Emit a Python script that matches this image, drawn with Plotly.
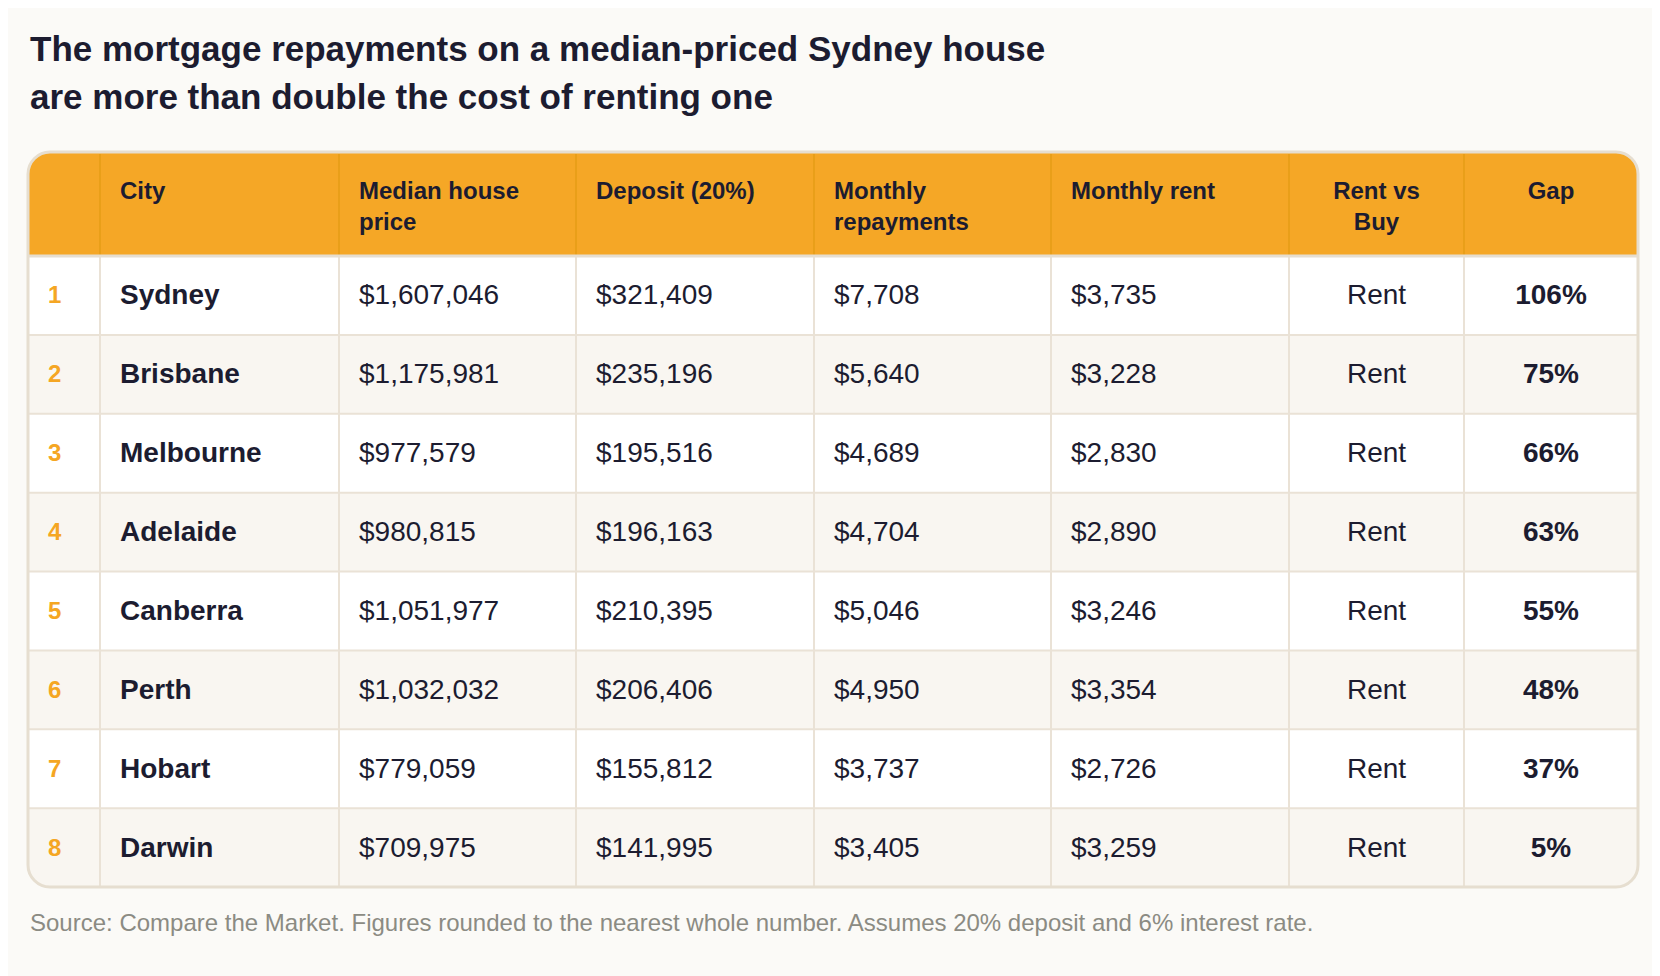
import plotly.graph_objects as go

# Data: cost of buying vs renting a median-priced house, by capital city
ranks = [1, 2, 3, 4, 5, 6, 7, 8]
cities = ["Sydney", "Brisbane", "Melbourne", "Adelaide", "Canberra", "Perth", "Hobart", "Darwin"]
median_price = [1607046, 1175981, 977579, 980815, 1051977, 1032032, 779059, 709975]
deposit = [321409, 235196, 195516, 196163, 210395, 206406, 155812, 141995]
monthly_repayments = [7708, 5640, 4689, 4704, 5046, 4950, 3737, 3405]
monthly_rent = [3735, 3228, 2830, 2890, 3246, 3354, 2726, 3259]
rent_vs_buy = ["Rent", "Rent", "Rent", "Rent", "Rent", "Rent", "Rent", "Rent"]
gap_pct = [106, 75, 66, 63, 55, 48, 37, 5]
headers = ["", "City", "Median house<br>price", "Deposit (20%)", "Monthly<br>repayments",
           "Monthly rent", "Rent vs<br>Buy", "Gap"]

TITLE_LINES = ["The mortgage repayments on a median-priced Sydney house",
               "are more than double the cost of renting one"]
SOURCE = "Source: Compare the Market. Figures rounded to the nearest whole number. Assumes 20% deposit and 6% interest rate."

# Theme
PAGE_BG = "#FBFAF7"
HEADER_FILL = "#F5A726"
HEADER_RULE = "#E59D16"
ROW_ODD = "#FFFFFF"
ROW_EVEN = "#F9F6F1"
GRID = "#EAE2D6"
BORDER = "#E6DED0"
INK = "#1C1C30"
RANK_INK = "#F5A623"
SOURCE_INK = "#8B8B83"
FONT = "Helvetica Neue, Helvetica, Arial, Liberation Sans, sans-serif"

# Layout geometry, in page pixels. The page body keeps its default 8px margin,
# so the figure is 8px smaller and the axes start at 8 to stay 1:1 with the page.
W, H = 1660, 976
BODY_MARGIN = 8
EDGES = [28, 100, 339, 576, 814, 1051, 1289, 1464, 1638]
TABLE_TOP, HEADER_BOTTOM, ROW_H = 152, 256, 78.875
TABLE_BOTTOM = HEADER_BOTTOM + ROW_H * len(ranks)
RADIUS = 22
PAD = 20
CENTERED = [6, 7]


def rounded_path(x0, y0, x1, y1, r, top=True, bottom=True):
    k = 0.5523 * r
    p = []
    if top:
        p.append(f"M{x0},{y0 + r} C{x0},{y0 + r - k} {x0 + r - k},{y0} {x0 + r},{y0}")
        p.append(f"L{x1 - r},{y0} C{x1 - r + k},{y0} {x1},{y0 + r - k} {x1},{y0 + r}")
    else:
        p.append(f"M{x0},{y0} L{x1},{y0}")
    if bottom:
        p.append(f"L{x1},{y1 - r} C{x1},{y1 - r + k} {x1 - r + k},{y1} {x1 - r},{y1}")
        p.append(f"L{x0 + r},{y1} C{x0 + r - k},{y1} {x0},{y1 - r + k} {x0},{y1 - r}")
    else:
        p.append(f"L{x1},{y1} L{x0},{y1}")
    p.append("Z")
    return " ".join(p)


def col_anchor(i):
    if i in CENTERED:
        return (EDGES[i] + EDGES[i + 1]) / 2
    return EDGES[i] + PAD


row_y = [HEADER_BOTTOM + (r - 0.5) * ROW_H + 2 for r in ranks]

shapes = []
# table body and header
shapes.append(dict(type="path", path=rounded_path(EDGES[0], TABLE_TOP, EDGES[-1], TABLE_BOTTOM, RADIUS),
                   fillcolor=ROW_ODD, line_width=0, layer="below"))
shapes.append(dict(type="path", path=rounded_path(EDGES[0], TABLE_TOP, EDGES[-1], HEADER_BOTTOM, RADIUS, bottom=False),
                   fillcolor=HEADER_FILL, line_width=0, layer="below"))
# banded rows
for r in ranks:
    if r % 2 == 0:
        y0 = HEADER_BOTTOM + (r - 1) * ROW_H
        last = r == len(ranks)
        shapes.append(dict(type="path", path=rounded_path(EDGES[0], y0, EDGES[-1], y0 + ROW_H, RADIUS, top=False, bottom=last),
                           fillcolor=ROW_EVEN, line_width=0, layer="below"))
# row rules
for r in ranks[:-1]:
    y = HEADER_BOTTOM + r * ROW_H
    shapes.append(dict(type="line", x0=EDGES[0], x1=EDGES[-1], y0=y, y1=y, line=dict(color=GRID, width=2), layer="below"))
# column rules
for x in EDGES[1:-1]:
    shapes.append(dict(type="line", x0=x, x1=x, y0=TABLE_TOP + 2, y1=HEADER_BOTTOM, line=dict(color=HEADER_RULE, width=1.5), layer="below"))
    shapes.append(dict(type="line", x0=x, x1=x, y0=HEADER_BOTTOM, y1=TABLE_BOTTOM - 1, line=dict(color=GRID, width=2), layer="below"))
# header separator and outer border
shapes.append(dict(type="line", x0=EDGES[0], x1=EDGES[-1], y0=HEADER_BOTTOM, y1=HEADER_BOTTOM,
                   line=dict(color=BORDER, width=3), layer="below"))
shapes.append(dict(type="path", path=rounded_path(EDGES[0], TABLE_TOP, EDGES[-1], TABLE_BOTTOM, RADIUS),
                   fillcolor="rgba(0,0,0,0)", line=dict(color=BORDER, width=3), layer="below"))

fig = go.Figure()

# header labels
HEAD_LINE = 193
head_y = [HEAD_LINE + h.count("<br>") * 31.2 / 2 for h in headers]
fig.add_trace(go.Scatter(
    x=[col_anchor(i) for i in range(len(headers))], y=head_y, text=headers, mode="text",
    textposition=["middle center" if i in CENTERED else "middle right" for i in range(len(headers))],
    textfont=dict(family=FONT, size=24, color=INK, weight="bold"),
    hoverinfo="skip", cliponaxis=False,
))

columns = [
    ([str(r) for r in ranks], dict(size=24, color=RANK_INK, weight="bold")),
    (cities, dict(size=28, color=INK, weight="bold")),
    ([f"${v:,}" for v in median_price], dict(size=28, color=INK)),
    ([f"${v:,}" for v in deposit], dict(size=28, color=INK)),
    ([f"${v:,}" for v in monthly_repayments], dict(size=28, color=INK)),
    ([f"${v:,}" for v in monthly_rent], dict(size=28, color=INK)),
    (rent_vs_buy, dict(size=28, color=INK)),
    ([f"{v}%" for v in gap_pct], dict(size=28, color=INK, weight="bold")),
]
for i, (vals, font) in enumerate(columns):
    fig.add_trace(go.Scatter(
        x=[col_anchor(i)] * len(vals), y=row_y, text=vals, mode="text",
        textposition="middle center" if i in CENTERED else "middle right",
        textfont=dict(family=FONT, **font),
        hoverinfo="skip", cliponaxis=False,
    ))

annotations = [
    dict(text=f"<b>{line}</b>", x=EDGES[0], y=48 + 48 * k, xref="x", yref="y",
         xanchor="left", yanchor="middle", align="left", showarrow=False,
         font=dict(family=FONT, size=35, color=INK))
    for k, line in enumerate(TITLE_LINES)
]
annotations.append(dict(text=SOURCE, x=EDGES[0], y=922, xref="x", yref="y",
                        xanchor="left", yanchor="middle", align="left", showarrow=False,
                        font=dict(family=FONT, size=24, color=SOURCE_INK)))

fig.update_layout(
    width=W - BODY_MARGIN, height=H - BODY_MARGIN,
    margin=dict(l=0, r=0, t=0, b=0),
    paper_bgcolor=PAGE_BG, plot_bgcolor=PAGE_BG,
    showlegend=False, hovermode=False,
    xaxis=dict(range=[BODY_MARGIN, W], visible=False, fixedrange=True),
    yaxis=dict(range=[H, BODY_MARGIN], visible=False, fixedrange=True),
    shapes=shapes,
    annotations=annotations,
)

fig.write_html("out.html")
